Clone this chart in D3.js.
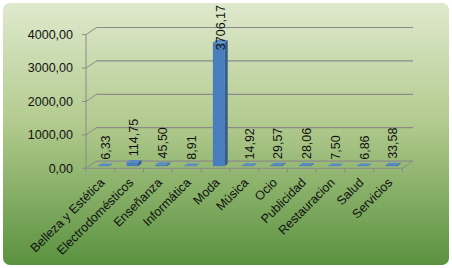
<!DOCTYPE html>
<html><head><meta charset="utf-8">
<script src="https://cdn.jsdelivr.net/npm/d3@7"></script>
<style>html,body{margin:0;padding:0;background:#fff;}svg{display:block;}</style>
</head><body>
<svg id="c" width="452" height="268"></svg>
<script>
const categories = ["Belleza y Estética","Electrodomésticos","Enseñanza","Informática","Moda","Música","Ocio","Publicidad","Restauracion","Salud","Servicios"];
const values = [6.33,114.75,45.50,8.91,3706.17,14.92,29.57,28.06,7.50,6.86,33.58];
const yTicks = [0,1000,2000,3000,4000];

const fmt = v => v.toFixed(2).replace(".", ",");
const svg = d3.select("#c");
const W = 452, H = 268;
const font = "'Liberation Sans', Arial, sans-serif";

const defs = svg.append("defs");
const g = defs.append("linearGradient").attr("id","bg").attr("x1",0).attr("y1",0).attr("x2",0).attr("y2",1);
g.append("stop").attr("offset","0%").attr("stop-color","#dfe9cd");
g.append("stop").attr("offset","45%").attr("stop-color","#b3cb8f");
g.append("stop").attr("offset","100%").attr("stop-color","#5a923f");
svg.append("rect").attr("x",3).attr("y",3).attr("width",W-6).attr("height",H-6).attr("rx",7).attr("fill","url(#bg)");

// plot geometry
const x = d3.scaleBand().domain(categories).range([86, 402.5]).paddingInner(0).paddingOuter(0);
const y = d3.scaleLinear().domain([0,4000]).range([168.3, 34.7]);
const DX = 10.5, DY = -7.2; // depth vector (front->back)
const P = (px, py, d) => [px + DX*d, py + DY*d];

const gridCol = "#8a8a8a";
yTicks.forEach(t => {
  const [bx, by] = P(x.range()[0], y(t), 1);
  const [ex] = P(x.range()[1], y(t), 1);
  svg.append("line").attr("x1",bx).attr("y1",by).attr("x2",ex).attr("y2",by)
    .attr("stroke",gridCol).attr("stroke-width",1.2);
  svg.append("line").attr("x1",x.range()[0]).attr("y1",y(t)).attr("x2",bx).attr("y2",by)
    .attr("stroke",gridCol).attr("stroke-width",1);
});
{
  const [bx, by] = P(x.range()[1], y(0), 1);
  svg.append("line").attr("x1",x.range()[1]).attr("y1",y(0)).attr("x2",bx).attr("y2",by)
    .attr("stroke",gridCol).attr("stroke-width",1);
}
svg.append("line").attr("x1",x.range()[0]).attr("y1",y(0)).attr("x2",x.range()[1]).attr("y2",y(0))
  .attr("stroke",gridCol).attr("stroke-width",1);
svg.append("line").attr("x1",x.range()[0]).attr("y1",y(4000)).attr("x2",x.range()[0]).attr("y2",y(0))
  .attr("stroke",gridCol).attr("stroke-width",1);
yTicks.forEach(t => {
  svg.append("line").attr("x1",x.range()[0]-4).attr("y1",y(t)).attr("x2",x.range()[0]).attr("y2",y(t))
    .attr("stroke",gridCol).attr("stroke-width",1);
  svg.append("text").attr("x",73).attr("y",y(t)).attr("dy","0.35em").attr("text-anchor","end")
    .attr("font-family",font).attr("font-size",12.5).attr("fill","#111").text(fmt(t));
});
const bounds = categories.map(c => x(c)).concat([x.range()[1]]);
bounds.forEach(b => {
  svg.append("line").attr("x1",b).attr("y1",y(0)).attr("x2",b).attr("y2",y(0)+4)
    .attr("stroke",gridCol).attr("stroke-width",1);
});

// bars
const d0 = 0.3, d1 = 0.62, bw = x.bandwidth()*0.4;
const bars = svg.append("g");
categories.forEach((c, i) => {
  const v = values[i];
  const cx = x(c) + x.bandwidth()/2;
  const xl = cx - bw/2, xr = cx + bw/2;
  const yt = y(v), yb = y(0);
  const f = (px, py, d) => P(px, py, d).join(",");
  bars.append("polygon").attr("points",[f(xr,yb,d0),f(xr,yb,d1),f(xr,yt,d1),f(xr,yt,d0)].join(" "))
    .attr("fill","#355d8f");
  bars.append("polygon").attr("points",[f(xl,yt,d0),f(xr,yt,d0),f(xr,yt,d1),f(xl,yt,d1)].join(" "))
    .attr("fill","#5a8ac6");
  const [fx, fy] = P(xl, yt, d0);
  const [, fb] = P(xl, yb, d0);
  bars.append("rect").attr("x",fx).attr("y",fy).attr("width",bw).attr("height",Math.max(0,fb-fy))
    .attr("fill","#4a7dbd");
  const [lx, ly] = P(cx, yt, (d0+d1)/2);
  const t = svg.append("text").attr("font-family",font).attr("font-size",12.5).attr("fill","#111")
    .attr("text-anchor","start").text(fmt(v));
  const len = t.node().getComputedTextLength();
  const base = Math.max(ly - 5, 5 + len);
  t.attr("transform",`translate(${lx + 4.5},${base}) rotate(-90)`);
});

categories.forEach(c => {
  const cx = x(c) + x.bandwidth()/2;
  svg.append("text").attr("font-family",font).attr("font-size",12.5).attr("fill","#111")
    .attr("text-anchor","end")
    .attr("transform",`translate(${cx+5},${y(0)+15}) rotate(-45)`)
    .text(c);
});
</script>
</body></html>
